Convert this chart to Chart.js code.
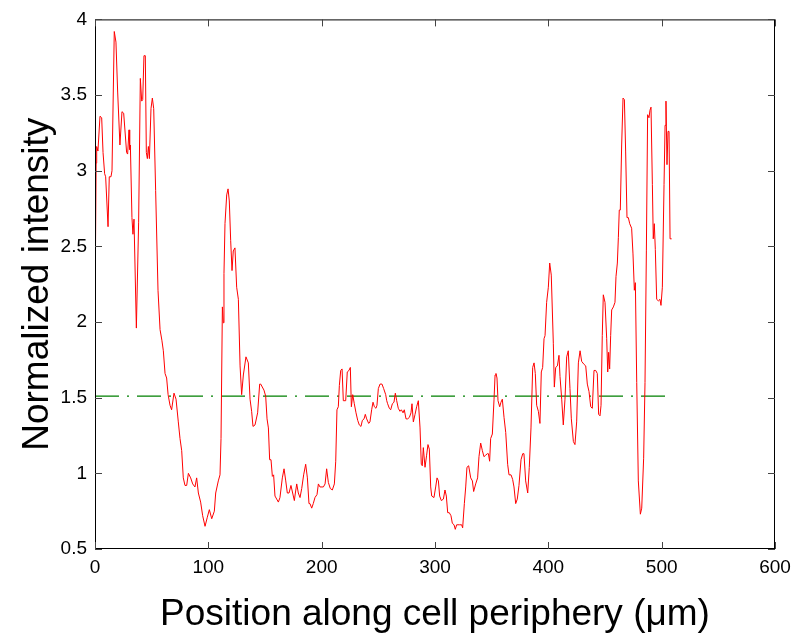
<!DOCTYPE html>
<html lang="en">
<head>
    <meta charset="UTF-8">
    <title>Normalized intensity along cell periphery</title>
    <script src="https://cdn.jsdelivr.net/npm/chart.js"></script>
    <style>
        html, body {
            margin: 0;
            padding: 0;
            background: #fff;
        }
        #wrap {
            width: 805px;
            height: 644px;
        }
    </style>
</head>
<body>
    <div id="wrap"><canvas id="myChart"></canvas></div>

    <script>
        // Position along periphery (µm)
        const positions = [
            0, 1, 1.5, 2.6, 4.4, 5.9, 7.1, 8.5, 9.4, 11.5, 12.6, 14.1, 15, 17, 18.5, 20, 22, 23.8, 25.3, 27.9,
            28.8, 30, 30.6, 31.2, 32.6, 33.5, 34.4, 36.5, 38.5, 40, 41.2, 42.1, 43.2, 44.4, 45.3, 46.2, 47.1, 48, 49.4, 50.6,
            51.8, 53.5, 55.6, 57.4, 59, 60.3, 61.8, 63.2, 64.5, 66.2, 67.6, 69.7, 71.5, 73.5, 75, 76.5, 77.9, 79.4, 80.9, 82.4,
            84.4, 86.2, 88.2, 89.7, 91.2, 93.2, 95, 97.1, 99.1, 100.9, 103, 105.3, 106.5, 108.8, 110.3, 111.2, 112.4, 113.2, 113.8, 114.7,
            116.2, 117.4, 118.5, 119.7, 120.9, 122, 123.5, 125, 126.5, 128, 129.4, 130.9, 133.2, 135.3, 136.8, 138.2, 139.4, 141.2, 143.5, 145.3,
            146.2, 149.1, 150.6, 151.8, 153, 154.1, 155.3, 156.5, 157.6, 158.8, 160.3, 161.8, 163.2, 165.3, 166.8, 168.3, 169.7, 171.2, 172.9, 174.4,
            175.9, 176.8, 178, 179.4, 180.9, 182.4, 184.1, 185.9, 187.4, 188.8, 189.7, 191.2, 192.6, 194.1, 195.9, 197.1, 198.5, 201.5, 203, 204.4,
            205.9, 207.6, 209.4, 211.2, 212.4, 213.5, 214.7, 215.6, 216.8, 218, 219.1, 221.2, 222.6, 224.1, 225.3, 226.2, 227.4, 228.8, 230.3, 231.8,
            233.2, 234.7, 235.9, 237.4, 238.5, 239.7, 241.5, 242.6, 244.1, 245.3, 246.5, 247.9, 248.8, 250, 251.5, 253.2, 254.7, 256.5, 257.4, 258.2,
            259.7, 260.9, 262.4, 263.8, 265, 266.2, 267.6, 269.1, 270.3, 271.8, 272.9, 274.4, 275.9, 277.4, 278.8, 279.7, 280.9, 282.4, 283.8, 285.3,
            286.8, 287.9, 288.8, 289.7, 291.2, 292.6, 293.8, 295, 296.2, 297.1, 299.1, 300.6, 301.8, 303, 304.1, 305.6, 307.4, 308.8, 310, 311.2,
            312.6, 314.1, 315.3, 316.8, 317.9, 319.1, 321.5, 323.5, 324.4, 325.9, 327.1, 328.2, 329.7, 331.5, 333, 334.1, 335.9, 337.6, 338.8, 340.3,
            341.8, 343.2, 344.7, 346.2, 347.1, 348.2, 349.1, 350.6, 352.1, 353, 353.8, 354.7, 355.6, 357.1, 358.2, 359.4, 360.9, 362.4, 364.1, 365.3,
            367.1, 368.5, 369.7, 371.2, 372.6, 374.1, 375.9, 377.4, 378.5, 380, 381.8, 383.2, 384.7, 386.2, 387.4, 388.5, 389.7, 391.2, 392.6, 393.8,
            395, 396.2, 397.1, 398.5, 400, 401.2, 402.6, 404.4, 405.3, 406.5, 408, 409.4, 410.3, 411.8, 413.2, 414.7, 416.2, 417.6, 419.1, 420.3,
            422.1, 423.5, 425, 426.5, 428, 429.4, 431.5, 433, 434.4, 435.9, 437.4, 438.8, 440.3, 441.8, 443.2, 444.4, 445.6, 446.5, 447.6, 448.5,
            450, 451.5, 452.4, 453.2, 454.1, 455, 455.9, 457.4, 458.8, 459.7, 460.9, 461.8, 462.6, 463.5, 464.7, 465.9, 467.1, 468.2, 469.4, 470.6,
            471.8, 473.5, 474.7, 475.9, 476.8, 478, 479.4, 481.2, 482.4, 484.1, 485.3, 486.5, 487.6, 488.8, 489.7, 490.6, 491.8, 492.6, 493.5, 494.4,
            495.6, 497.1, 498.5, 499.4, 500.6, 502.1, 503, 503.8, 504.7, 505.6, 506.5, 507.4, 508.8
        ];

        // Normalized intensity at each position
        const intensity = [
            2.05, 3.05, 3.16, 3.13, 3.36, 3.35, 3.12, 2.98, 2.96, 2.63, 2.96, 2.96, 3.0, 3.92, 3.85, 3.52, 3.17, 3.39, 3.38, 3.12,
            3.11, 3.27, 3.14, 3.17, 2.69, 2.58, 2.68, 1.96, 2.66, 3.61, 3.46, 3.47, 3.76, 3.76, 3.12, 3.08, 3.16, 3.08, 3.41, 3.48,
            3.41, 2.87, 2.21, 1.95, 1.88, 1.81, 1.66, 1.63, 1.52, 1.45, 1.42, 1.53, 1.49, 1.34, 1.23, 1.15, 0.97, 0.92, 0.92, 1.0,
            0.97, 0.93, 0.91, 0.97, 0.87, 0.81, 0.72, 0.65, 0.71, 0.76, 0.70, 0.75, 0.87, 0.95, 0.99, 1.23, 2.10, 1.995, 2.32, 2.65,
            2.84, 2.88, 2.80, 2.54, 2.34, 2.47, 2.49, 2.23, 2.15, 1.71, 1.52, 1.65, 1.77, 1.73, 1.49, 1.41, 1.31, 1.32, 1.40, 1.59,
            1.59, 1.55, 1.51, 1.36, 1.30, 1.09, 1.09, 0.98, 0.99, 0.85, 0.83, 0.81, 0.84, 0.97, 1.03, 0.95, 0.87, 0.87, 0.92, 0.87,
            0.82, 0.87, 0.93, 0.87, 0.84, 0.90, 0.99, 1.06, 0.97, 0.80, 0.80, 0.77, 0.80, 0.84, 0.86, 0.93, 0.91, 0.91, 0.93, 1.03,
            0.94, 0.90, 0.89, 0.93, 1.08, 1.42, 1.44, 1.58, 1.68, 1.69, 1.48, 1.48, 1.67, 1.68, 1.70, 1.44, 1.52, 1.46, 1.40, 1.35,
            1.32, 1.31, 1.35, 1.36, 1.39, 1.36, 1.33, 1.34, 1.42, 1.47, 1.44, 1.43, 1.45, 1.56, 1.59, 1.59, 1.56, 1.52, 1.48, 1.46,
            1.43, 1.42, 1.46, 1.47, 1.53, 1.48, 1.43, 1.41, 1.42, 1.40, 1.42, 1.36, 1.36, 1.37, 1.40, 1.46, 1.34, 1.39, 1.44, 1.48,
            1.30, 1.06, 1.05, 1.17, 1.04, 1.12, 1.19, 1.16, 0.91, 0.85, 0.84, 0.91, 0.97, 0.95, 0.85, 0.82, 0.83, 0.89, 0.85, 0.74,
            0.74, 0.72, 0.67, 0.66, 0.63, 0.66, 0.66, 0.66, 0.64, 0.80, 0.91, 1.04, 1.05, 0.97, 0.95, 0.88, 0.93, 0.97, 1.11, 1.20,
            1.15, 1.11, 1.12, 1.13, 1.13, 1.08, 1.23, 1.26, 1.49, 1.65, 1.66, 1.63, 1.48, 1.44, 1.47, 1.49, 1.37, 1.27, 1.06, 0.99,
            0.99, 0.96, 0.91, 0.80, 0.83, 0.92, 1.09, 1.13, 1.13, 0.95, 0.87, 1.04, 1.30, 1.70, 1.73, 1.66, 1.45, 1.41, 1.33, 1.67,
            1.70, 1.89, 1.91, 2.13, 2.23, 2.39, 2.31, 1.86, 1.57, 1.70, 1.71, 1.78, 1.64, 1.49, 1.32, 1.49, 1.77, 1.81, 1.56, 1.36,
            1.21, 1.19, 1.34, 1.73, 1.81, 1.74, 1.72, 1.71, 1.59, 1.54, 1.44, 1.43, 1.68, 1.68, 1.66, 1.39, 1.38, 1.45, 1.91, 2.18,
            2.13, 1.89, 1.67, 1.80, 1.69, 1.91, 2.08, 2.10, 2.13, 2.30, 2.39, 2.56, 2.74, 2.74, 3.17, 3.48, 3.47, 3.13, 2.69, 2.69,
            2.65, 2.62, 2.45, 2.21, 2.26, 1.60, 0.95, 0.73, 0.77, 1.10, 1.60, 2.47, 3.37, 3.35, 3.40, 3.42, 2.91, 2.55, 2.65, 2.48,
            2.15, 2.14, 2.15, 2.11, 2.23, 2.91, 3.30, 3.46, 3.04, 3.26, 3.26, 2.55, 2.55
        ];

        // Threshold line (dash-dot)
        const thresholdValue = 1.51;
        const thresholdRange = [0, 509];

        // Axis ticks and their labels
        const xTicks = [0, 100, 200, 300, 400, 500, 600];
        const yTicks = [0.5, 1, 1.5, 2, 2.5, 3, 3.5, 4];
        const yTickLabels = ['0.5', '1', '1.5', '2', '2.5', '3', '3.5', '4'];

        const tickFont = { family: "'Liberation Sans Narrow', 'Arial Narrow', 'Liberation Sans', Arial, sans-serif", size: 19 };
        const titleFont = { family: "'Liberation Sans', Arial, Helvetica, sans-serif", size: 37 };

        // Box around the plot and inward tick marks on all four sides
        const boxPlugin = {
            id: 'boxTicks',
            afterDraw(chart) {
                const { ctx, chartArea: a, scales } = chart;
                ctx.save();
                ctx.strokeStyle = '#000';
                ctx.lineWidth = 1;
                ctx.strokeRect(a.left + 0.5, a.top + 0.5, a.right - a.left - 1, a.bottom - a.top - 1);
                ctx.strokeStyle = '#444';
                const len = 7;
                ctx.beginPath();
                xTicks.forEach(v => {
                    const px = Math.round(scales.x.getPixelForValue(v)) + 0.5;
                    ctx.moveTo(px, a.bottom);
                    ctx.lineTo(px, a.bottom - len);
                    ctx.moveTo(px, a.top);
                    ctx.lineTo(px, a.top + len);
                });
                yTicks.forEach(v => {
                    const py = Math.round(scales.y.getPixelForValue(v)) + 0.5;
                    ctx.moveTo(a.left, py);
                    ctx.lineTo(a.left + len, py);
                    ctx.moveTo(a.right, py);
                    ctx.lineTo(a.right - len, py);
                });
                ctx.stroke();
                ctx.restore();
            }
        };

        const ctx = document.getElementById('myChart').getContext('2d');
        new Chart(ctx, {
            type: 'line',
            data: {
                datasets: [
                    {
                        label: 'Intensity',
                        data: positions.map((x, i) => ({ x: x, y: intensity[i] })),
                        borderColor: '#ff0000',
                        borderWidth: 1,
                        pointRadius: 0,
                        tension: 0
                    },
                    {
                        label: 'Threshold',
                        data: thresholdRange.map(x => ({ x: x, y: thresholdValue })),
                        borderColor: '#008000',
                        borderWidth: 1.2,
                        borderDash: [24, 8, 2, 8],
                        pointRadius: 0
                    }
                ]
            },
            options: {
                responsive: true,
                maintainAspectRatio: false,
                animation: false,
                layout: { padding: { top: 13, right: 30, left: 0, bottom: 0 } },
                plugins: {
                    legend: { display: false },
                    tooltip: { enabled: false }
                },
                scales: {
                    x: {
                        type: 'linear',
                        min: 0,
                        max: 600,
                        afterBuildTicks: s => { s.ticks = xTicks.map(v => ({ value: v })); },
                        afterFit: s => { s.height = 95; },
                        grid: { display: false, drawTicks: false },
                        border: { display: false },
                        ticks: { color: '#000', font: tickFont, padding: 7, maxRotation: 0 },
                        title: {
                            display: true,
                            text: 'Position along cell periphery (μm)',
                            color: '#000',
                            font: titleFont,
                            padding: { top: 0, bottom: 7 }
                        }
                    },
                    y: {
                        type: 'linear',
                        min: 0.5,
                        max: 4,
                        afterBuildTicks: s => { s.ticks = yTicks.map(v => ({ value: v })); },
                        afterFit: s => { s.width = 95; },
                        grid: { display: false, drawTicks: false },
                        border: { display: false },
                        ticks: {
                            color: '#000',
                            font: tickFont,
                            padding: 8,
                            callback: (v, i) => yTickLabels[i]
                        },
                        title: {
                            display: true,
                            text: 'Normalized intensity',
                            color: '#000',
                            font: titleFont,
                            padding: { top: 16, bottom: 0 }
                        }
                    }
                }
            },
            plugins: [boxPlugin]
        });
    </script>
</body>
</html>
